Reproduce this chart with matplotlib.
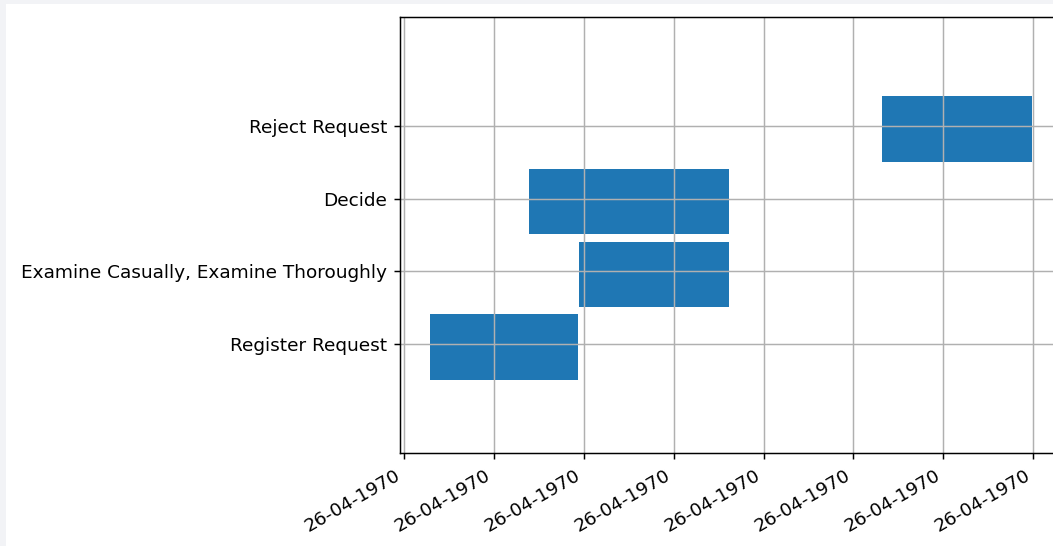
import matplotlib
matplotlib.use("Agg")
import matplotlib.pyplot as plt
import matplotlib.dates as mdates
from matplotlib.patches import Rectangle
from datetime import datetime

# activities and their time spans (all on the same day)
activities = ["Register Request", "Examine Casually, Examine Thoroughly", "Decide", "Reject Request"]
starts = ["1970-04-26 00:35", "1970-04-26 03:54", "1970-04-26 02:47", "1970-04-26 10:38"]
ends = ["1970-04-26 03:53", "1970-04-26 07:14", "1970-04-26 07:14", "1970-04-26 13:58"]
rows = [1, 2, 3, 4]

DPI = 133
fig = plt.figure(figsize=(1053 / DPI, 546 / DPI), dpi=DPI)
fig.patch.set_facecolor("#f2f3f6")
# white page area of the screenshot
fig.patches.append(Rectangle((6 / 1053, 0), 1, (546 - 4) / 546, transform=fig.transFigure,
                             facecolor="white", edgecolor="none", zorder=-10))

ax = fig.add_axes([399.9 / 1053, 93 / 546, (1061.9 - 399.9) / 1053, 436 / 546])

for row, s, e in zip(rows, starts, ends):
    s0 = mdates.date2num(datetime.strptime(s, "%Y-%m-%d %H:%M"))
    e0 = mdates.date2num(datetime.strptime(e, "%Y-%m-%d %H:%M"))
    ax.broken_barh([(s0, e0 - s0)], (row - 0.49, 0.9), facecolors="#1f77b4")

ax.set_yticks(rows)
ax.set_yticklabels(activities)
ax.set_ylim(-0.5, 5.5)

ax.xaxis.set_major_locator(mdates.HourLocator(byhour=range(0, 24, 2)))
ax.xaxis.set_major_formatter(mdates.DateFormatter("%d-%m-%Y"))
ax.grid(True)

for lbl in ax.get_xticklabels():
    lbl.set_rotation(30)
    lbl.set_ha("right")

fig.savefig("out.png", dpi=DPI, facecolor=fig.get_facecolor())
